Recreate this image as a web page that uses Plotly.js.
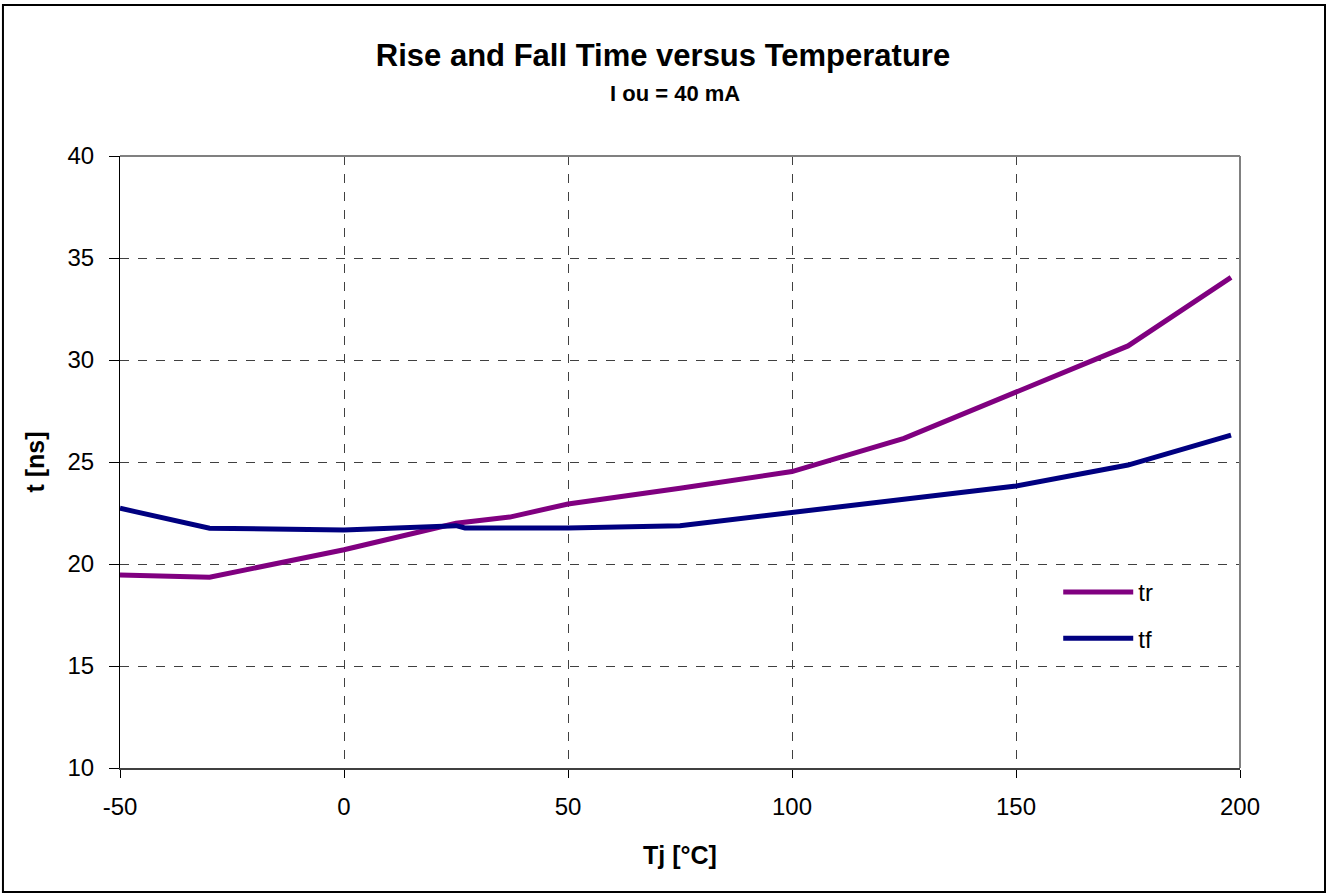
<!DOCTYPE html>
<html>
<head>
<meta charset="utf-8">
<script src="https://cdn.plot.ly/plotly-3.0.1.min.js"></script>
<style>html,body{margin:0;padding:0;background:#fff;}#chart{width:1326px;height:893px;}</style>
</head>
<body>
<div id="chart"></div>
<script>
const trTemp = [-50, -30, 0, 25, 37, 50, 75, 100, 125, 150, 175, 198];
const trTime = [19.46, 19.35, 20.7, 22.0, 22.3, 22.94, 23.71, 24.53, 26.16, 28.40, 30.69, 34.05];
const tfTemp = [-50, -30, 0, 25, 27, 50, 75, 100, 125, 150, 175, 198];
const tfTime = [22.73, 21.75, 21.67, 21.88, 21.77, 21.77, 21.88, 22.51, 23.19, 23.82, 24.85, 26.32];
const xTicks = [-50, 0, 50, 100, 150, 200];
const yTicks = [10, 15, 20, 25, 30, 35, 40];

const font = "Liberation Sans, Arial, sans-serif";

const traces = [
  {x: trTemp, y: trTime, name: 'tr', legendgroup: 'a', mode: 'lines', line: {color: '#800080', width: 5}},
  {x: tfTemp, y: tfTime, name: 'tf', legendgroup: 'b', mode: 'lines', line: {color: '#000080', width: 5}}
];

const layout = {
  width: 1326, height: 893,
  margin: {l: 120, r: 86, t: 156, b: 125},
  paper_bgcolor: '#fff', plot_bgcolor: '#fff',
  font: {family: font, color: '#000'},
  title: {text: '<b>Rise and Fall Time versus Temperature</b>', font: {family: font, size: 31, color: '#000'},
          x: 0.5, xanchor: 'center', y: 0.938, yanchor: 'middle'},
  annotations: [{text: '<b>I ou = 40 mA</b>', xref: 'paper', yref: 'paper', x: 0.4955, y: 1.102,
                 xanchor: 'center', yanchor: 'middle', showarrow: false, font: {family: font, size: 22, color: '#000'}}],
  xaxis: {
    range: [-50, 200], tickvals: xTicks, ticktext: xTicks.map(String),
    showgrid: true, gridcolor: '#404040', griddash: 'dash', gridwidth: 1,
    showline: true, linecolor: '#404040', linewidth: 2, zeroline: false,
    ticks: 'outside', ticklen: 8, tickcolor: '#000', tickwidth: 1, ticklabelstandoff: 8,
    tickfont: {family: font, size: 24, color: '#000'},
    title: {text: '<b>Tj [°C]</b>', font: {family: font, size: 25, color: '#000'}, standoff: 28}
  },
  yaxis: {
    range: [10, 40], tickvals: yTicks, ticktext: yTicks.map(String),
    showgrid: true, gridcolor: '#404040', griddash: 'dash', gridwidth: 1,
    showline: true, linecolor: '#000', linewidth: 1, zeroline: false,
    ticks: 'outside', ticklen: 10, tickcolor: '#000', tickwidth: 1, ticklabelstandoff: 10,
    tickfont: {family: font, size: 24, color: '#000'},
    title: {text: '<b>t [ns]</b>', font: {family: font, size: 25, color: '#000'}, standoff: 15}
  },
  legend: {x: 0.8377, y: 0.3235, xanchor: 'left', yanchor: 'top', bgcolor: 'rgba(0,0,0,0)',
           font: {family: font, size: 24, color: '#000'}, itemwidth: 70, traceorder: 'grouped', tracegroupgap: 12},
  showlegend: true,
  shapes: [
    {type: 'line', xref: 'paper', yref: 'paper', x0: 0, x1: 1, y0: 1, y1: 1, line: {color: '#808080', width: 2}},
    {type: 'line', xref: 'paper', yref: 'paper', x0: 1, x1: 1, y0: 0, y1: 1, line: {color: '#808080', width: 2}},
    {type: 'rect', xref: 'paper', yref: 'paper', x0: -0.1045, x1: 1.0759, y0: -0.2026, y1: 1.2467, line: {color: '#000', width: 2}}
  ]
};

Plotly.newPlot('chart', traces, layout, {displayModeBar: false, staticPlot: true});
</script>
</body>
</html>
